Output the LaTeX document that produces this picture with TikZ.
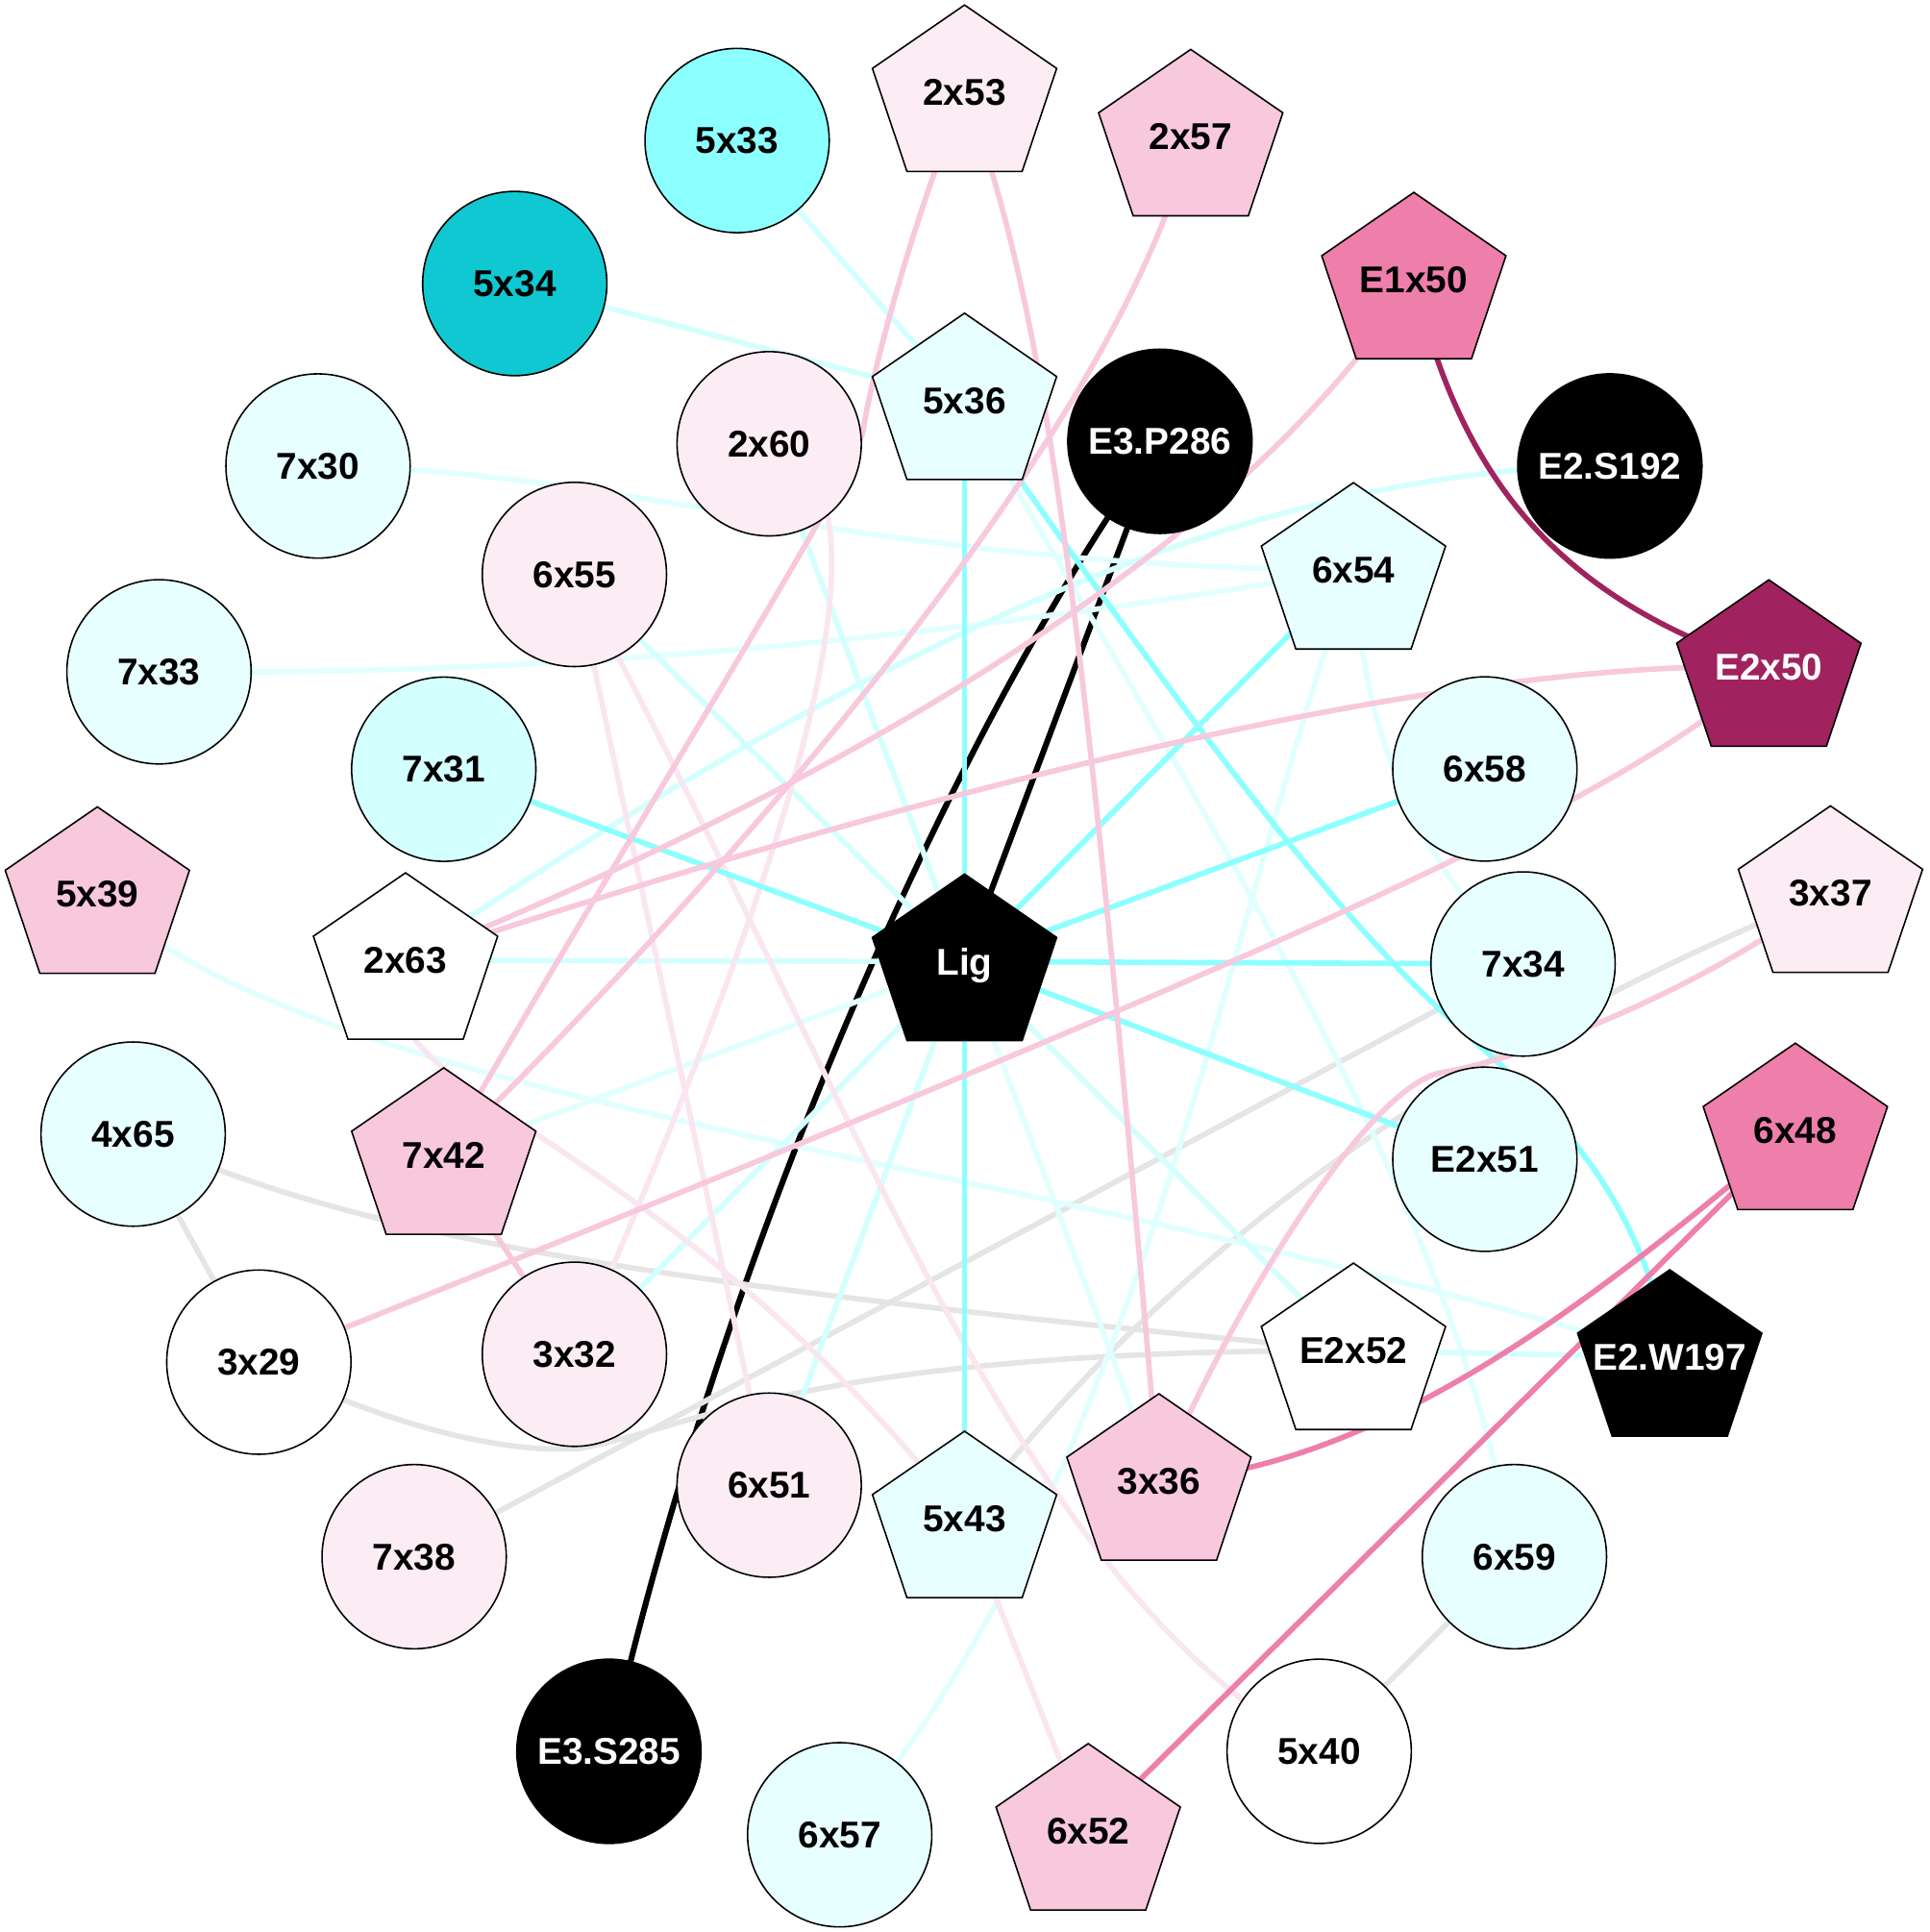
\documentclass[tikz,border=0pt]{standalone}
\usepackage{fontspec}
\setmainfont{Liberation Sans}
\usetikzlibrary{backgrounds}
\newcommand\nodefont{\bfseries\fontsize{8.6}{10}\selectfont}
\definecolor{cyA}{RGB}{140,255,255}
\definecolor{cyB}{RGB}{212,255,255}
\definecolor{cyC}{RGB}{232,255,255}
\definecolor{cyD}{RGB}{16,200,210}
\definecolor{pkA}{RGB}{252,236,244}
\definecolor{pkB}{RGB}{248,200,220}
\definecolor{pkC}{RGB}{238,126,170}
\definecolor{mgA}{RGB}{160,35,95}
\definecolor{grA}{RGB}{229,229,229}
\definecolor{lpE}{RGB}{250,230,240}
\definecolor{cyE}{RGB}{226,255,255}
\tikzset{
  cnode/.style={circle, draw=black, line width=0.35pt, fill=#1, minimum size=1.494cm,
    inner sep=0pt, font=\nodefont, text depth=0pt},
  pnode/.style={rectangle, draw=none, minimum width=1.54cm, minimum height=1.46cm,
    inner sep=0pt, font=\nodefont, text depth=0pt,
    path picture={\draw[line width=0.35pt, fill=#1]
      (path picture bounding box.center) ++(0cm,0.709cm) -- ++(0.747cm,-0.514cm)
      -- ++(-0.28cm,-0.835cm) -- ++(-0.934cm,0cm) -- ++(-0.28cm,0.835cm) -- cycle;}},
  wtext/.style={text=white},
  edge/.style={line width=1.25pt, line cap=round},
  eblack/.style={edge, black, line width=1.35pt},
  egray/.style={edge, grA},
  ecyA/.style={edge, cyA},
  ecyB/.style={edge, cyB},
  ecyC/.style={edge, cyE},
  epkL/.style={edge, lpE},
  epkB/.style={edge, pkB},
  epkC/.style={edge, pkC},
  emg/.style={edge, mgA},
}
\begin{document}
\begin{tikzpicture}[x=0.01cm, y=-0.01cm]
\useasboundingbox (0,0) rectangle (1565,1567.3);
% circles
\node[cnode=cyA] (n5x33) at (598,114) {5x33};
\node[cnode=cyD] (n5x34) at (417.6,230) {5x34};
\node[cnode=cyC] (n7x30) at (258,378) {7x30};
\node[cnode=pkA] (n2x60) at (624,360) {2x60};
\node[cnode=pkA] (n6x55) at (466,466) {6x55};
\node[cnode=cyC] (n7x33) at (129,545) {7x33};
\node[cnode=cyB] (n7x31) at (360,624) {7x31};
\node[cnode=black, wtext] (nE3P286) at (941,358) {E3.P286};
\node[cnode=black, wtext] (nE2S192) at (1306,378) {E2.S192};
\node[cnode=cyC] (n6x58) at (1204.6,623.8) {6x58};
\node[cnode=cyC] (n7x34) at (1235.6,782) {7x34};
\node[cnode=cyC] (nE2x51) at (1204.6,940.4) {E2x51};
\node[cnode=cyC] (n4x65) at (108,920) {4x65};
\node[cnode=white] (n3x29) at (210,1105) {3x29};
\node[cnode=pkA] (n3x32) at (466,1098.6) {3x32};
\node[cnode=pkA] (n6x51) at (624,1204.8) {6x51};
\node[cnode=pkA] (n7x38) at (336,1262.8) {7x38};
\node[cnode=black, wtext] (nE3S285) at (494,1420.7) {E3.S285};
\node[cnode=cyC] (n6x57) at (681.2,1488.4) {6x57};
\node[cnode=white] (n5x40) at (1070.2,1420.7) {5x40};
\node[cnode=cyC] (n6x59) at (1228.6,1262.8) {6x59};
% pentagons
\node[pnode=pkA] (n2x53) at (782.5,75) {2x53};
\node[pnode=pkB] (n2x57) at (966,111) {2x57};
\node[pnode=pkC] (nE1x50) at (1147,227) {E1x50};
\node[pnode=cyC] (n5x36) at (782.5,325) {5x36};
\node[pnode=cyC] (n6x54) at (1098,462.5) {6x54};
\node[pnode=mgA, wtext] (nE2x50) at (1435,541.3) {E2x50};
\node[pnode=pkB] (n5x39) at (79,725.5) {5x39};
\node[pnode=white] (n2x63) at (329,779) {2x63};
\node[pnode=black, wtext] (nLig) at (782.5,780) {Lig};
\node[pnode=pkA] (n3x37) at (1485,724.7) {3x37};
\node[pnode=pkC] (n6x48) at (1456.5,917.2) {6x48};
\node[pnode=pkB] (n7x42) at (360,937.2) {7x42};
\node[pnode=white] (nE2x52) at (1098,1095.6) {E2x52};
\node[pnode=black, wtext] (nE2W197) at (1354.6,1101) {E2.W197};
\node[pnode=pkB] (n3x36) at (940.2,1201.6) {3x36};
\node[pnode=cyC] (n5x43) at (782.5,1232) {5x43};
\node[pnode=pkB] (n6x52) at (882.8,1485.4) {6x52};
\begin{scope}[on background layer]
\fill[white] (0,0) rectangle (1565,1567.3);
% black
\draw[eblack] (nE3P286.center) -- (nLig.center);
\draw[eblack] (nE3P286.center) .. controls (780,580) and (590,1000) .. (nE3S285.center);
% gray
\draw[egray] (n4x65.center) -- (n3x29.center);
\draw[egray] (n4x65.center) .. controls (280,1000) and (500,1040) .. (nE2x52.center);
\draw[egray] (n3x29.center) .. controls (300,1150) and (400,1180) .. (470,1175)
   .. controls (560,1160) and (650,1095) .. (nE2x52.center);
\draw[egray] (n7x38.center) -- (n7x34.center);
\draw[egray] (n5x43.center) .. controls (900,1080) and (1100,880) .. (n3x37.center);
\draw[egray] (n5x40.center) -- (n6x59.center);
% pale cyan
\draw[ecyC] (n7x30.center) .. controls (500,380) and (700,460) .. (n6x54.center);
\draw[ecyC] (n7x33.center) .. controls (450,548) and (750,520) .. (n6x54.center);
\draw[ecyC] (n5x39.center) .. controls (260,900) and (800,930) .. (nE2W197.center);
\draw[ecyC] (nLig.center) -- (n7x42.center);
\draw[ecyC] (nLig.center) -- (n3x36.center);
\draw[ecyC] (n6x54.center) .. controls (1000,720) and (930,1200) .. (n6x57.center);
\draw[ecyC] (n5x36.center) .. controls (1000,700) and (1180,980) .. (n6x59.center);
\draw[ecyC] (n6x54.center) .. controls (1105,580) and (1140,690) .. (n7x34.center);
\draw[ecyB] (n2x63.center) -- (nLig.center);
\draw[ecyB] (n2x60.center) -- (nLig.center);
\draw[ecyB] (n6x55.center) -- (nLig.center);
\draw[ecyB] (n2x63.center) .. controls (680,540) and (1000,380) .. (nE2S192.center);
\draw[ecyB] (nLig.center) -- (nE2x52.center);
\draw[ecyB] (nLig.center) -- (n3x32.center);
\draw[ecyB] (nLig.center) -- (n6x51.center);
\draw[ecyB] (n5x33.center) -- (n5x36.center);
\draw[ecyB] (n5x34.center) -- (n5x36.center);
\draw[ecyB] (nE2x52.center) -- (nE2W197.center);
% light pink
\draw[epkL] (n2x60.center) .. controls (750,390) and (620,750) .. (n3x32.center);
\draw[epkL] (n6x55.center) -- (n6x51.center);
\draw[epkL] (n6x55.center) .. controls (700,900) and (820,1280) .. (n5x40.center);
\draw[epkL] (n2x63.center) .. controls (280,890) and (520,900) .. (n5x43.center);
\draw[epkL] (n5x43.center) -- (n6x52.center);
% bright cyan
\draw[ecyA] (n7x31.center) -- (nLig.center);
\draw[ecyA] (nLig.center) -- (n7x34.center);
\draw[ecyA] (nLig.center) -- (n6x58.center);
\draw[ecyA] (nLig.center) -- (n6x54.center);
\draw[ecyA] (nLig.center) -- (nE2x51.center);
\draw[ecyA] (n5x36.center) -- (nLig.center);
\draw[ecyA] (nLig.center) -- (n5x43.center);
\draw[ecyA] (n5x36.center) .. controls (960,580) and (1080,740) .. (1180,830)
   .. controls (1250,893) and (1330,960) .. (nE2W197.center);
% pink
\draw[epkB] (n2x53.center) .. controls (740,180) and (708,300) .. (700,350)
   .. controls (692,390) and (520,660) .. (n7x42.center);
\draw[epkB] (n2x53.center) .. controls (850,250) and (880,500) .. (n3x36.center);
\draw[epkB] (n2x57.center) .. controls (920,300) and (700,600) .. (n7x42.center);
\draw[epkB] (nE1x50.center) .. controls (1050,380) and (820,580) .. (n2x63.center);
\draw[epkB] (nE2x50.center) .. controls (1250,535) and (900,590) .. (n2x63.center);
\draw[epkB] (nE2x50.center) .. controls (1330,640) and (1100,750) .. (n3x29.center);
\draw[epkB] (n3x37.center) .. controls (1370,810) and (1230,860) .. (1170,870)
   .. controls (1110,880) and (1000,1060) .. (n3x36.center);
\draw[epkB] (n7x42.center) -- (n3x32.center);
% hot pink and magenta
\draw[epkC] (n6x48.center) -- (n6x52.center);
\draw[epkC] (n6x48.center) .. controls (1310,1040) and (1130,1190) .. (n3x36.center);
\draw[emg] (nE1x50.center) .. controls (1180,360) and (1240,480) .. (nE2x50.center);
\end{scope}
\end{tikzpicture}
\end{document}
